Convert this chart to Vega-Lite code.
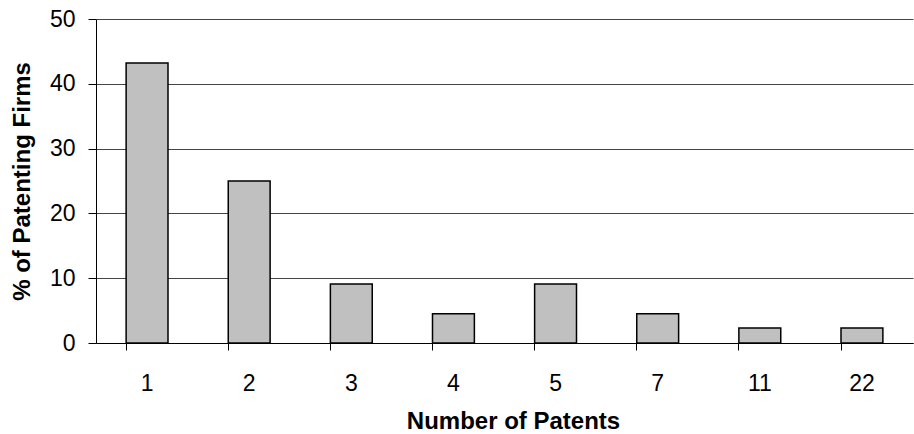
{
  "$schema": "https://vega.github.io/schema/vega-lite/v6.json",
  "width": 817,
  "height": 324,
  "autosize": "none",
  "padding": {"left": 96, "top": 19, "right": 1, "bottom": 91},
  "background": "white",
  "config": {
    "view": {"stroke": null},
    "font": "Liberation Sans"
  },
  "data": {
    "values": [
      {"patents": "1", "pct": 43.2},
      {"patents": "2", "pct": 25.0},
      {"patents": "3", "pct": 9.1},
      {"patents": "4", "pct": 4.5},
      {"patents": "5", "pct": 9.1},
      {"patents": "7", "pct": 4.5},
      {"patents": "11", "pct": 2.3},
      {"patents": "22", "pct": 2.3}
    ]
  },
  "mark": {"type": "bar", "fill": "#c0c0c0", "stroke": "black", "strokeWidth": 1.5},
  "encoding": {
    "x": {
      "field": "patents",
      "type": "ordinal",
      "sort": null,
      "scale": {"paddingInner": 0.59, "paddingOuter": 0.295},
      "axis": {
        "title": "Number of Patents",
        "titleFont": "Liberation Sans",
        "titleFontSize": 24,
        "titleFontWeight": "bold",
        "titleColor": "black",
        "titlePadding": 14,
        "titleX": 417,
        "labelAngle": 0,
        "labelFont": "Liberation Sans",
        "labelFontSize": 23,
        "labelColor": "black",
        "labelPadding": 22,
        "bandPosition": 0,
        "tickColor": "black",
        "tickSize": 7,
        "domainColor": "black",
        "grid": false
      }
    },
    "y": {
      "field": "pct",
      "type": "quantitative",
      "scale": {"domain": [0, 50], "nice": false},
      "axis": {
        "title": "% of Patenting Firms",
        "titleFont": "Liberation Sans",
        "titleFontSize": 24,
        "titleFontWeight": "bold",
        "titleColor": "black",
        "titlePadding": 15,
        "values": [0, 10, 20, 30, 40, 50],
        "labelFont": "Liberation Sans",
        "labelFontSize": 23,
        "labelColor": "black",
        "labelPadding": 13,
        "tickColor": "black",
        "tickSize": 8,
        "domainColor": "black",
        "grid": true,
        "gridColor": "#444444",
        "gridWidth": 1
      }
    }
  }
}
